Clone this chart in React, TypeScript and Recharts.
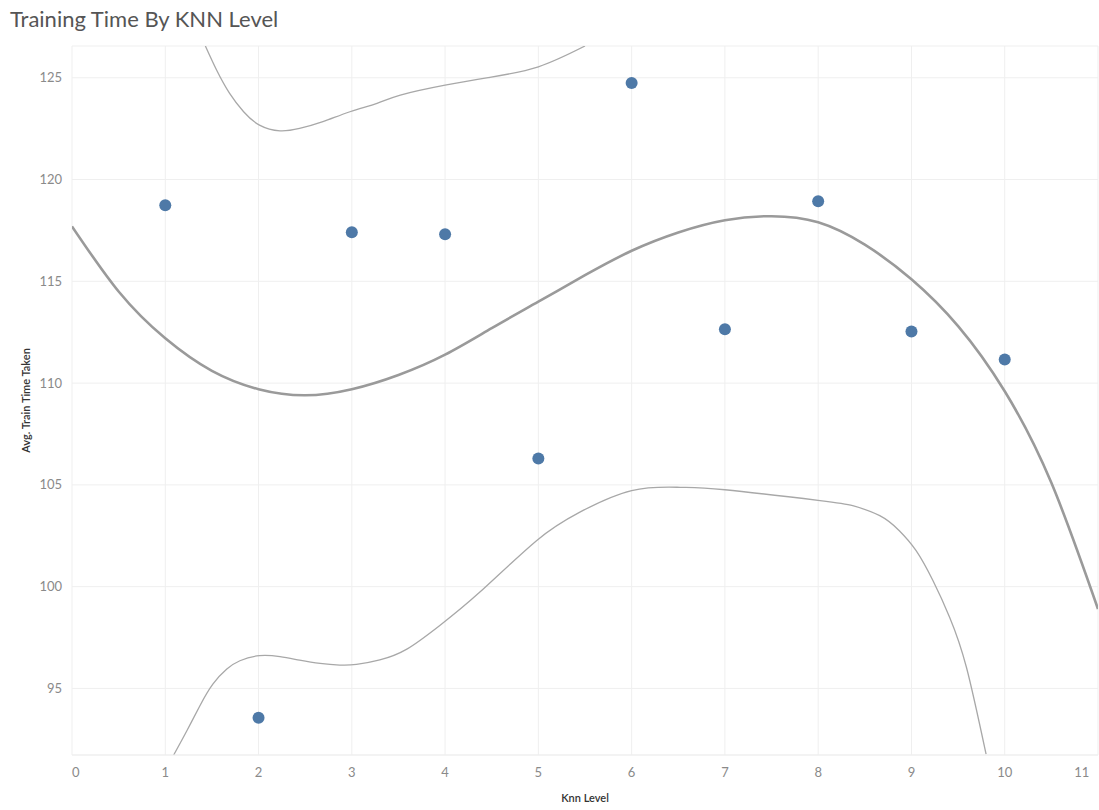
import React from "react";
import { CartesianGrid, ComposedChart, Line, Scatter, XAxis, YAxis } from "recharts";

const knnLevels = [1, 2, 3, 4, 5, 6, 7, 8, 9, 10];
const avgTrainTime = [118.74, 93.56, 117.41, 117.31, 106.29, 124.74, 112.64, 118.93, 112.54, 111.16];

// trend line and its upper / lower bands
const trendX = [0, 0.5, 1, 1.5, 2, 2.5, 3, 3.5, 4, 4.5, 5, 5.5, 6, 6.5, 7, 7.5, 8, 8.5, 9, 9.5, 10, 10.5, 11];
const trendY = [117.7, 114.5, 112.2, 110.6, 109.7, 109.4, 109.7, 110.4, 111.4, 112.7, 114.0, 115.3, 116.5, 117.4, 118.0, 118.2, 117.9, 116.8, 115.1, 112.8, 109.6, 105.1, 98.9];

const upperX = [1.43, 1.55, 1.69, 1.84, 2.01, 2.23, 2.44, 2.69, 2.98, 3.27, 3.52, 4.0, 4.48, 5.0, 5.5];
const upperY = [126.56, 125.38, 124.23, 123.33, 122.67, 122.39, 122.51, 122.84, 123.33, 123.74, 124.15, 124.64, 125.02, 125.54, 126.56];

const lowerX = [1.09, 1.23, 1.37, 1.51, 1.66, 1.8, 2.01, 2.23, 2.44, 2.66, 2.87, 3.05, 3.3, 3.59, 3.94, 4.37, 4.98, 5.44, 6.0, 6.52, 7.0, 8.02, 8.37, 8.66, 8.87, 9.05, 9.23, 9.41, 9.59, 9.8];
const lowerY = [91.73, 92.91, 94.14, 95.21, 95.95, 96.36, 96.61, 96.56, 96.39, 96.23, 96.15, 96.18, 96.4, 96.93, 98.08, 99.72, 102.26, 103.65, 104.72, 104.88, 104.76, 104.23, 103.98, 103.49, 102.75, 101.77, 100.3, 98.49, 96.03, 91.77];

const xTicks = [0, 1, 2, 3, 4, 5, 6, 7, 8, 9, 10, 11];
const yTicks = [95, 100, 105, 110, 115, 120, 125];

const pts = knnLevels.map((x, i) => ({ x, y: avgTrainTime[i] }));
const trend = trendX.map((x, i) => ({ x, y: trendY[i] }));
const upper = upperX.map((x, i) => ({ x, y: upperY[i] }));
const lower = lowerX.map((x, i) => ({ x, y: lowerY[i] }));

const font = "Lato, 'Open Sans', sans-serif";

function XTick(props: any) {
  const { x, y, payload } = props;
  let anchor = "middle";
  let dx = 0;
  if (payload.value === 0) anchor = "start";
  if (payload.value === 11) { anchor = "end"; dx = -2; }
  return (
    <text x={x + dx} y={y} dy={12} textAnchor={anchor} fill="#8a8a8a" fontSize={13} fontFamily={font}>
      {payload.value}
    </text>
  );
}

export default function App() {
  return (
    <div style={{ position: "absolute", left: 0, top: 0, width: 1099, height: 810, background: "#fff" }}>
      <div style={{ position: "absolute", left: 10, top: 5, fontFamily: font, fontSize: 22, color: "#555" }}>
        Training Time By KNN Level
      </div>
      <ComposedChart width={1099} height={810} margin={{ top: 46, right: 1, left: 0, bottom: 0 }}>
        <CartesianGrid stroke="#efefef" />
        <XAxis
          type="number"
          dataKey="x"
          domain={[0, 11]}
          ticks={xTicks}
          allowDataOverflow
          height={55}
          tickLine={false}
          axisLine={{ stroke: "#efefef" }}
          tick={<XTick />}
          tickMargin={4}
          label={{ value: "Knn Level", position: "insideBottom", offset: 8, fill: "#333", fontSize: 11, fontFamily: font, fontWeight: 600 }}
        />
        <YAxis
          type="number"
          dataKey="y"
          domain={[91.73, 126.56]}
          ticks={yTicks}
          allowDataOverflow
          width={72}
          tickLine={false}
          axisLine={false}
          tickSize={0}
          tickMargin={10}
          tick={{ fill: "#8a8a8a", fontSize: 13, fontFamily: font }}
          label={{ value: "Avg. Train Time Taken", angle: -90, position: "insideLeft", offset: 26, fill: "#333", fontSize: 11, fontFamily: font, fontWeight: 600, style: { textAnchor: "middle" } }}
        />
        <Line data={upper} dataKey="y" type="natural" stroke="#a8a8a8" strokeWidth={1.3} dot={false} isAnimationActive={false} />
        <Line data={lower} dataKey="y" type="natural" stroke="#a8a8a8" strokeWidth={1.3} dot={false} isAnimationActive={false} />
        <Line data={trend} dataKey="y" type="natural" stroke="#9a9a9a" strokeWidth={2.6} dot={false} isAnimationActive={false} />
        <Scatter data={pts} dataKey="y" fill="#4e79a7" shape={(p: any) => <circle cx={p.cx} cy={p.cy} r={6} fill="#4e79a7" />} isAnimationActive={false} />
      </ComposedChart>
    </div>
  );
}
